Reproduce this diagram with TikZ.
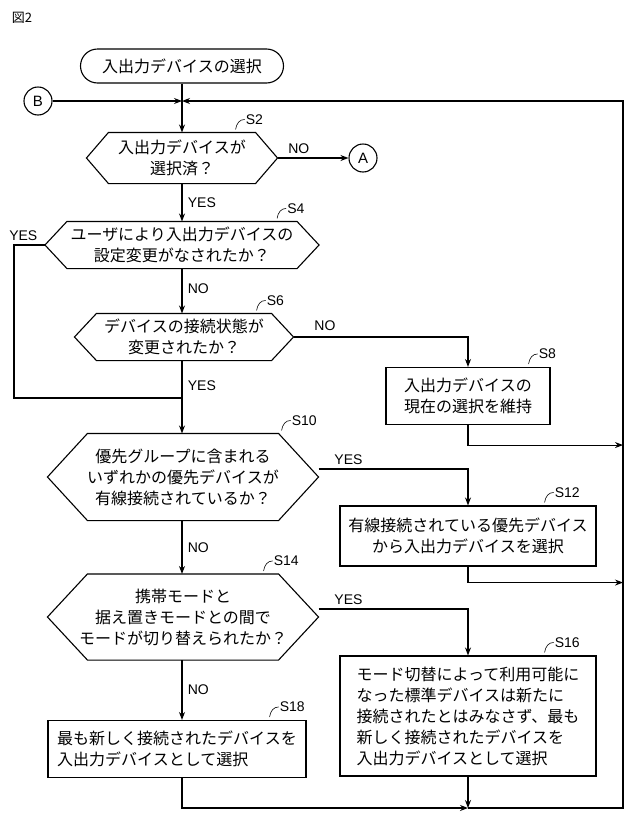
\documentclass[tikz,border=0pt]{standalone}
\usepackage{fontspec}
\setmainfont{Noto Sans CJK JP}
\newfontfamily\latinfont{Liberation Sans}
\usetikzlibrary{positioning,arrows.meta}
\tikzset{
  every picture/.style={x=1pt,y=-1pt,line width=1.1pt,>={Stealth[length=8pt,width=6pt]}},
  txt/.style={font=\fontsize{16}{21}\selectfont,align=center},
  procbox/.style={draw,txt,inner sep=0pt},
  decbox/.style={txt,inner sep=0pt},
  lbl/.style={font=\latinfont\fontsize{14}{16}\selectfont},
  conn/.style={draw,circle,minimum size=28pt,inner sep=0pt,font=\latinfont\fontsize{15}{17}\selectfont}
}
% hexagon drawn around a named node
\newcommand{\hexa}[2]{\draw (#1.west) -- ([xshift=#2]#1.north west) -- ([xshift=-#2]#1.north east)
  -- (#1.east) -- ([xshift=-#2]#1.south east) -- ([xshift=#2]#1.south west) -- cycle;}
% step label with a small hook
\newcommand{\steplbl}[3]{\draw[line width=0.6pt] (#1) ++(-12,-3) .. controls ++(1,-6) and ++(-5,0) .. ++(9,-10) node[lbl,anchor=west,inner sep=1pt] (#2) {#3};}
\begin{document}
\begin{tikzpicture}
\useasboundingbox (0,0) rectangle (640,825);
\node[font=\fontsize{13}{15}\selectfont] (fig) at (22,18) {図2};

\node[draw,txt,rounded corners=17pt,minimum width=203pt,minimum height=34pt] (start) at (182,66) {入出力デバイスの選択};
\node[conn] (B) at (38,101) {B};
\coordinate (join) at (182,101);

\node[decbox,minimum width=190pt,minimum height=50pt] (s2) at (182,158) {入出力デバイスが\\選択済？};
\hexa{s2}{22}
\node[conn] (A) at (363,158) {A};

\node[decbox,minimum width=273pt,minimum height=46pt] (s4) at (182,245) {ユーザにより入出力デバイスの\\設定変更がなされたか？};
\hexa{s4}{22}

\node[decbox,minimum width=218pt,minimum height=46pt] (s6) at (184,337) {デバイスの接続状態が\\変更されたか？};
\hexa{s6}{22}

\node[procbox,minimum width=164pt,minimum height=57pt] (s8) at (468,396) {入出力デバイスの\\現在の選択を維持};

\node[decbox,minimum width=270pt,minimum height=86pt] (s10) at (183,477) {優先グループに含まれる\\いずれかの優先デバイスが\\有線接続されているか？};
\hexa{s10}{40}

\node[procbox,minimum width=256pt,minimum height=60pt] (s12) at (468,536) {有線接続されている優先デバイス\\から入出力デバイスを選択};

\node[decbox,minimum width=270pt,minimum height=85pt] (s14) at (183,617) {携帯モードと\\据え置きモードとの間で\\モードが切り替えられたか？};
\hexa{s14}{40}

\node[procbox,minimum width=256pt,minimum height=120pt,align=left] (s16) at (468,716) {モード切替によって利用可能に\\なった標準デバイスは新たに\\接続されたとはみなさず、最も\\新しく接続されたデバイスを\\入出力デバイスとして選択};

\node[procbox,minimum width=258pt,minimum height=57pt,align=left] (s18) at (177,749) {最も新しく接続されたデバイスを\\入出力デバイスとして選択};

\coordinate (merge) at (182,398);
\coordinate (endjoin) at (468,808);
\coordinate (rightbot) at (623,808);

% step labels
\steplbl{[xshift=-30pt]s2.north east}{l2}{S2}
\steplbl{[xshift=-30pt]s4.north east}{l4}{S4}
\steplbl{[xshift=-25pt]s6.north east}{l6}{S6}
\steplbl{[xshift=-10pt]s8.north east}{l8}{S8}
\steplbl{[xshift=-25pt]s10.north east}{l10}{S10}
\steplbl{[xshift=-40pt]s12.north east}{l12}{S12}
\steplbl{[xshift=-43pt]s14.north east}{l14}{S14}
\steplbl{[xshift=-40pt]s16.north east}{l16}{S16}
\steplbl{[xshift=-25pt]s18.north east}{l18}{S18}

% connectors
\draw[->] (start) -- (join) -- (s2.north);
\draw[->] (B) -- (join);
\draw[->] (s2.east) -- node[lbl,above,pos=0.3] {NO} (A);
\draw[->] (s2.south) -- node[lbl,right,pos=0.5,xshift=2pt] {YES} (s4.north);
\draw[->] (s4.south) -- node[lbl,right,pos=0.45,xshift=2pt] {NO} (s6.north -| s4.south);
\draw (s4.west) -- node[lbl,above,pos=0.7] {YES} (14,245) -- (14,398) -- (merge);
\draw[->] (s6.south -| merge) -- node[lbl,right,pos=0.35,xshift=2pt] {YES} (s10.north -| merge);
\draw[->] (s6.east) -- node[lbl,above,pos=0.18,yshift=2pt] {NO} (s6.east -| s8.north) -- (s8.north);
\draw[->] (s8.south) -- ++(0,20) -- ++(155,0);
\draw[->] (s10.east) ++(0,-8) coordinate (e10) -- node[lbl,above,pos=0.2] {YES} (e10 -| s12.north) -- (s12.north);
\draw[->] (s12.south) -- ++(0,16) -- ++(155,0);
\draw[->] (s10.south -| merge) -- node[lbl,right,pos=0.5,xshift=2pt] {NO} (s14.north -| merge);
\draw[->] (s14.east) ++(0,-8) coordinate (e14) -- node[lbl,above,pos=0.2] {YES} (e14 -| s16.north) -- (s16.north);
\draw[->] (s14.south -| merge) -- node[lbl,right,pos=0.5,xshift=2pt] {NO} (s18.north -| merge);
\draw[->] (s18.south -| merge) -- (merge |- endjoin) -- (endjoin);
\draw[->] (s16.south) -- (endjoin);
\draw[->] (endjoin) -- (rightbot) -- (623,101) -- (join);
\end{tikzpicture}
\end{document}
